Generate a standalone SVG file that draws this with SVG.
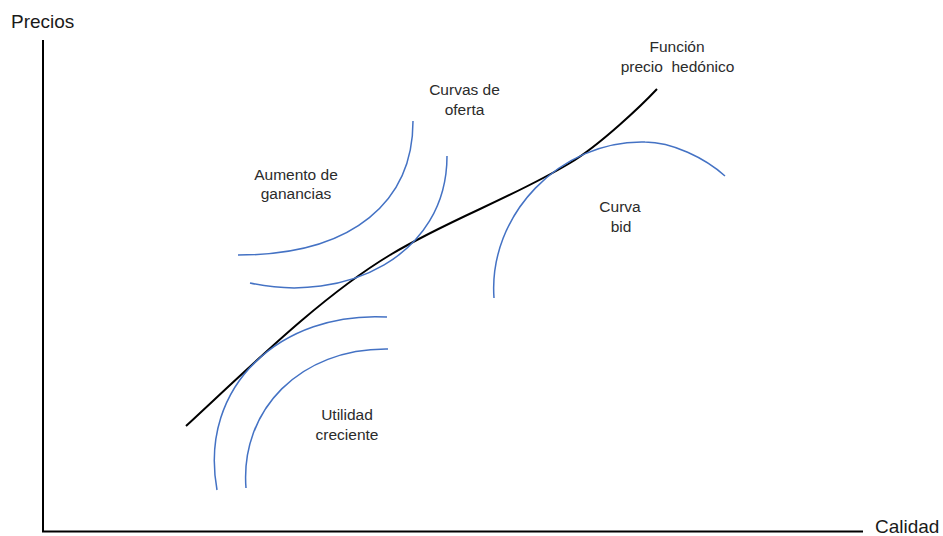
<svg xmlns="http://www.w3.org/2000/svg" width="943" height="536" viewBox="0 0 943 536">
<style>
.axis{stroke:#000;stroke-width:2;fill:none}
.hed{stroke:#000;stroke-width:2;fill:none}
.blue{stroke:#4472C4;stroke-width:1.5;fill:none}
.lbl{font-family:"Liberation Sans",Arial,sans-serif;font-size:15.5px;fill:#2b2b2b;text-anchor:middle}
.ax{font-family:"Liberation Sans",Arial,sans-serif;font-size:19px;fill:#1a1a1a}
</style>
<rect width="943" height="536" fill="#fff"/>
<g id="axes">
<path class="axis" d="M43,40 V531.5 H863"/>
<text class="ax" x="11" y="28">Precios</text>
<text class="ax" x="875" y="533">Calidad</text>
</g>
<g id="connectors">
<path id="hedonic" class="hed" d="M186,426 C254,363 322,296 390,255 C450,219 510,199 570,163 C600,145 642,105 657,89"/>
<path id="oferta1" class="blue" d="M413,121 C413,200 355,255 238,255"/>
<path id="oferta2" class="blue" d="M447,156 C447,256 345,304 250,283"/>
<path id="utilidad1" class="blue" d="M217,490 C198,385 282,311 387,317"/>
<path id="utilidad2" class="blue" d="M246,488 C240,410 300,348 388,349"/>
<path id="bid" class="blue" d="M494,298 C488,215 560,140 645,142 C672,142 705,158 725,176"/>
</g>
<g id="label-hedonico">
<text class="lbl" x="677" y="52">Función</text>
<text class="lbl" x="677.5" y="72" style="white-space:pre">precio  hedónico</text>
</g>
<g id="label-oferta">
<text class="lbl" x="464.5" y="95">Curvas de</text>
<text class="lbl" x="464.5" y="115">oferta</text>
</g>
<g id="label-ganancias">
<text class="lbl" x="296" y="180">Aumento de</text>
<text class="lbl" x="296" y="199">ganancias</text>
</g>
<g id="label-bid">
<text class="lbl" x="620" y="212">Curva</text>
<text class="lbl" x="621" y="232">bid</text>
</g>
<g id="label-utilidad">
<text class="lbl" x="347" y="420">Utilidad</text>
<text class="lbl" x="347" y="440">creciente</text>
</g>
</svg>
